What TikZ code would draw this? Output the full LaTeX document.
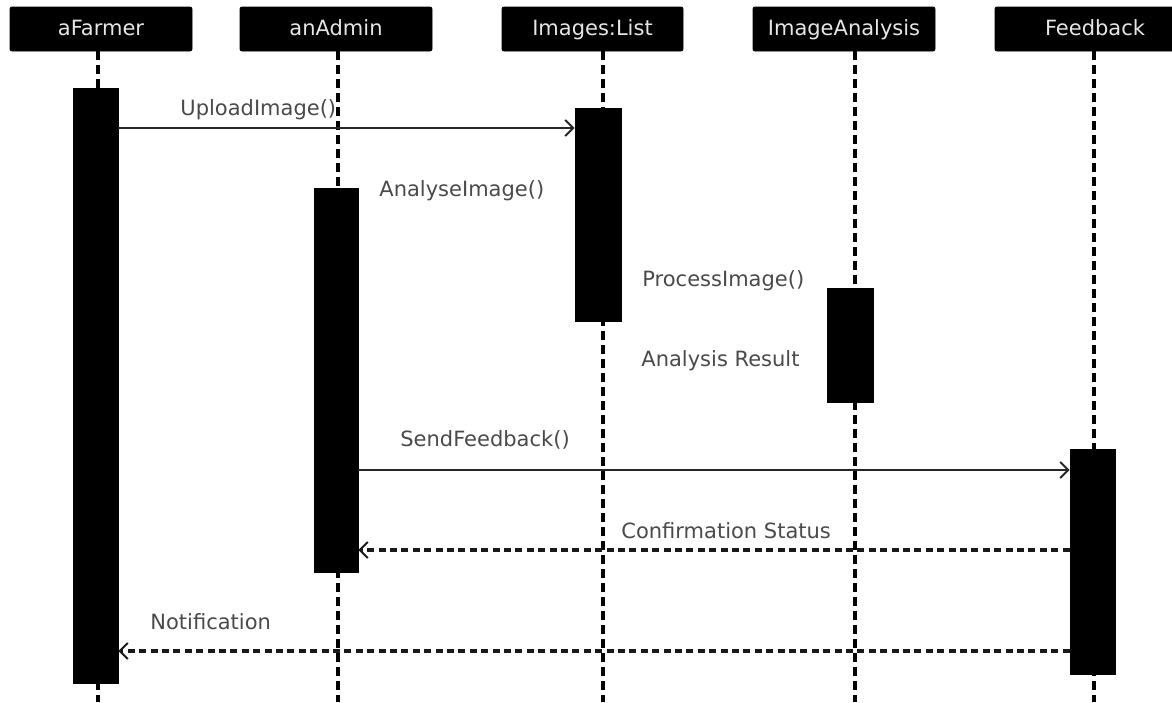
\documentclass[tikz,border=0pt]{standalone}
\usepackage{fontspec}
\setmainfont{DejaVu Sans}
\usetikzlibrary{arrows.meta}
\definecolor{labelgrey}{HTML}{4A4A4A}
\definecolor{headtext}{HTML}{E6E6E6}
\tikzset{
  header/.style={fill=black, draw=black, rounded corners=1pt, minimum height=22pt, inner sep=0pt,
                 text height=8pt, text depth=2pt,
                 text=headtext, font=\fontsize{10.5}{12}\selectfont},
  actbar/.style={fill=black, draw=black, inner sep=0pt, minimum width=22.5pt},
  lifeline/.style={line width=1.7pt, dash pattern=on 4.5pt off 2.5pt},
  msg/.style={line width=1pt, draw=black!85, -{Straight Barb[length=4pt,width=8pt,line width=1pt]}},
  reply/.style={line width=1.6pt, dash pattern=on 3.5pt off 2.2pt, draw=black!90, -{Straight Barb[length=4pt,width=8pt,line width=1pt]}},
  lbl/.style={anchor=west, inner sep=0pt, text=labelgrey, font=\fontsize{10.5}{12}\selectfont}
}
\begin{document}
\begin{tikzpicture}[x=0.5pt,y=-0.5pt]
\clip (0,0) rectangle (1172,702);
\fill[white] (0,0) rectangle (1172,702);
% headers
\node[header, minimum width=91pt] (hfarmer) at (101,29) {aFarmer};
\node[header, minimum width=96pt] (hadmin) at (336,29) {anAdmin};
\node[header, minimum width=90.5pt] (hlist) at (592.5,29) {Images:List};
\node[header, minimum width=91pt] (hanal) at (844,29) {ImageAnalysis};
\node[header, minimum width=100pt] (hfeed) at (1095,29) {Feedback};
% lifeline ends
\coordinate (efarmer) at (98,702);
\coordinate (eadmin) at (338,702);
\coordinate (elist) at (603,702);
\coordinate (eanal) at (855,702);
\coordinate (efeed) at (1094,702);
\draw[lifeline] (hfarmer.south -| efarmer) -- (efarmer);
\draw[lifeline] (hadmin.south -| eadmin) -- (eadmin);
\draw[lifeline] (hlist.south -| elist) -- (elist);
\draw[lifeline] (hanal.south -| eanal) -- (eanal);
\draw[lifeline] (hfeed.south -| efeed) -- (efeed);
% activation bars
\node[actbar, minimum height=297.5pt] (bfarmer) at (95.5,385.5) {};
\node[actbar, minimum width=22pt, minimum height=192pt] (badmin) at (336,380) {};
\node[actbar, minimum width=23pt, minimum height=106.5pt] (blist) at (598,214.5) {};
\node[actbar, minimum width=23pt, minimum height=57pt] (banal) at (850,345) {};
\node[actbar, minimum width=22.5pt, minimum height=112.5pt] (bfeed) at (1092.5,561.5) {};
% message y-levels
\coordinate (m1) at (0,128);
\coordinate (m2) at (0,470);
\coordinate (m3) at (0,550);
\coordinate (m4) at (0,651);
% messages
\draw[msg] (bfarmer.east |- m1) -- (blist.west |- m1);
\draw[msg] (badmin.east |- m2) -- (bfeed.west |- m2);
\draw[reply] (bfeed.west |- m3) -- (badmin.east |- m3);
\draw[reply] (bfeed.west |- m4) -- (bfarmer.east |- m4);
% labels
\node[lbl] (l1) at (180,110) {UploadImage()};
\node[lbl] (l2) at (379,191) {AnalyseImage()};
\node[lbl] (l3) at (642,281) {ProcessImage()};
\node[lbl] (l4) at (641,361) {Analysis Result};
\node[lbl] (l5) at (400,440) {SendFeedback()};
\node[lbl] (l6) at (621,531) {Confirmation Status};
\node[lbl] (l7) at (150,622) {Notification};
\end{tikzpicture}
\end{document}
